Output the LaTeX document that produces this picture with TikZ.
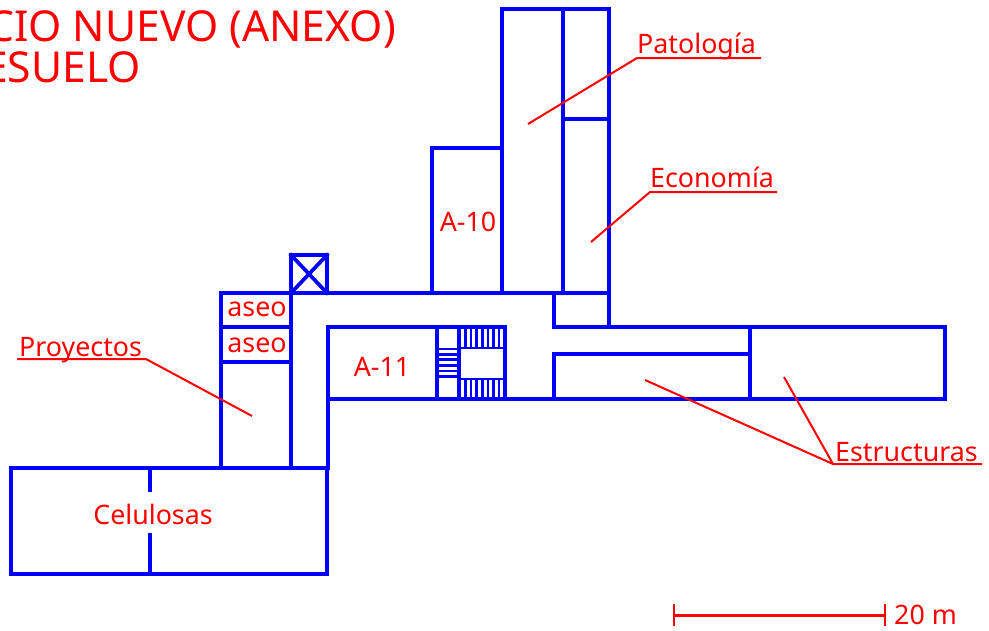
\documentclass[tikz,border=0pt]{standalone}
\usepackage{fontspec}
\setmainfont{Noto Sans}
\tikzset{
  wall/.style={draw=blue,line width=3.7pt,line cap=rect},
  stairline/.style={draw=blue,line width=2.6pt},
  leader/.style={draw=red,line width=2pt},
  rotulo/.style={text=red,font=\fontsize{26.8}{26.8}\selectfont,inner sep=0pt},
  titulo/.style={text=red,font=\fontsize{42.6}{42.6}\selectfont,inner sep=0pt,anchor=base east}
}
\begin{document}
\begin{tikzpicture}[x=1pt,y=-1pt]
  \useasboundingbox (0,0) rectangle (989,630);
  % tower
  \draw[wall] (502,9) rectangle (609,293);
  \draw[wall] (563,9) -- (563,293);
  \draw[wall] (563,119) -- (609,119);
  \draw[wall] (432,293) -- (432,148) -- (502,148);
  % corridor and east wing
  \draw[wall] (221,468) -- (221,293) -- (554,293);
  \draw[wall] (554,293) -- (554,327) -- (945,327) -- (945,399) -- (328,399) -- (328,327) -- (505,327);
  \draw[wall] (609,293) -- (609,327);
  \draw[wall] (554,354) -- (750,354);
  \draw[wall] (554,354) -- (554,399);
  \draw[wall] (750,327) -- (750,399);
  \draw[wall] (291,293) -- (291,468);
  \draw[wall] (221,327) -- (291,327);
  \draw[wall] (221,362) -- (291,362);
  % lift
  \draw[wall] (291,255) rectangle (327,293);
  \draw[wall] (291,255) -- (327,293);
  \draw[wall] (327,255) -- (291,293);
  % stairs
  \draw[wall] (437,327) -- (437,399);
  \draw[wall] (505,327) -- (505,399);
  \draw[wall] (459,327) -- (459,399);
  \draw[stairline] (459,348) -- (505,348);
  \draw[stairline] (459,379) -- (505,379);
  \foreach \x in {465.5,471,476.7,482.3,488,493.7,499} {
    \draw[stairline] (\x,327) -- (\x,348);
    \draw[stairline] (\x,379) -- (\x,399);
  }
  \foreach \y in {349,354.3,359.7,365.3,371,376.7} {
    \draw[stairline] (437,\y) -- (459,\y);
  }
  % south block
  \draw[wall] (11,468) rectangle (327,574);
  \draw[wall] (150,468) -- (150,490);
  \draw[wall] (150,535) -- (150,574);
  \draw[wall] (328,399) -- (328,468);
  % labels
  \node[titulo] (titulouno) at (396,41) {CIO NUEVO (ANEXO)};
  \node[titulo] (titulodos) at (141,82) {ESUELO};
  \node[rotulo,anchor=base west] (patologia) at (637,53) {Patología};
  \node[rotulo,anchor=base west] (economia) at (650,187) {Economía};
  \node[rotulo,anchor=base west] (proyectos) at (19,356) {Proyectos};
  \node[rotulo,anchor=base west] (estructuras) at (835,461) {Estructuras};
  \node[rotulo] (aten) at (468,222) {A-10};
  \node[rotulo] (aonce) at (382,367) {A-11};
  \node[rotulo] (aseouno) at (257,309) {aseo};
  \node[rotulo] (aseodos) at (257,345) {aseo};
  \node[rotulo] (celulosas) at (153,514) {Celulosas};
  \node[rotulo,anchor=base west] (escala) at (894,624) {20 m};
  % leaders
  \coordinate (patologiaa) at (637,58);
  \coordinate (patologiab) at (761,58);
  \coordinate (patologiac) at (528,124);
  \draw[leader] (patologiab) -- (patologiaa) -- (patologiac);
  \coordinate (economiaa) at (650,192);
  \coordinate (economiab) at (777,192);
  \coordinate (economiac) at (591,242);
  \draw[leader] (economiab) -- (economiaa) -- (economiac);
  \coordinate (proyectosa) at (146,359);
  \coordinate (proyectosb) at (17,359);
  \coordinate (proyectosc) at (252,416);
  \draw[leader] (proyectosb) -- (proyectosa) -- (proyectosc);
  \coordinate (estructurasa) at (833,464);
  \coordinate (estructurasb) at (982,464);
  \coordinate (estructurasc) at (645,380);
  \coordinate (estructurasd) at (784,377);
  \draw[leader] (estructurasb) -- (estructurasa) -- (estructurasc);
  \draw[leader] (estructurasa) -- (estructurasd);
  % scale bar
  \coordinate (escalaa) at (674,615);
  \coordinate (escalab) at (885,615);
  \draw[leader,line width=3pt] (escalaa) -- (escalab);
  \draw[leader] (674,604) -- (674,626);
  \draw[leader] (885,604) -- (885,626);
\end{tikzpicture}
\end{document}
